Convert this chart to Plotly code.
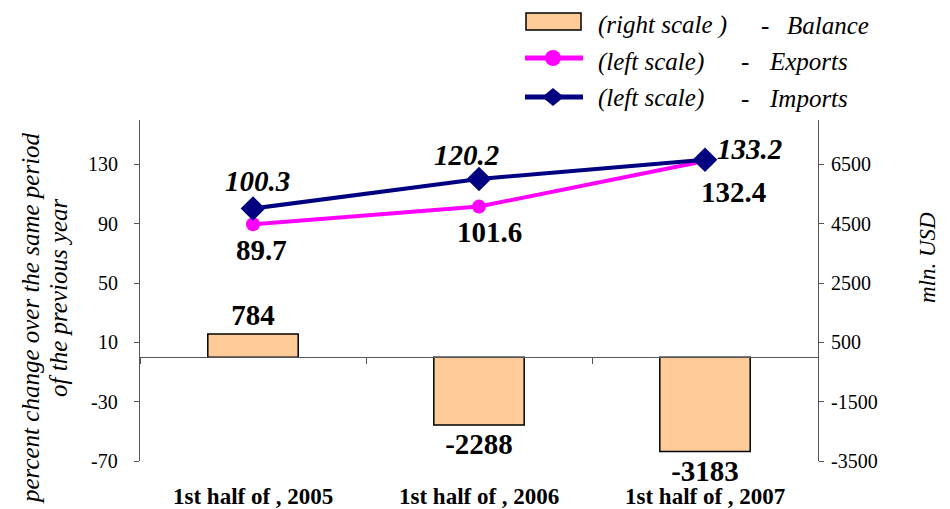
import plotly.graph_objects as go

categories = ["1st half of , 2005", "1st half of , 2006", "1st half of , 2007"]
balance = [784, -2288, -3183]
exports = [89.7, 101.6, 132.4]
imports = [100.3, 120.2, 133.2]
left_ticks = [-70, -30, 10, 50, 90, 130]
right_ticks = [-3500, -1500, 500, 2500, 4500, 6500]
legend_scales = ["(right scale )", "(left scale)", "(left scale)"]
legend_series = ["Balance", "Exports", "Imports"]
left_title = ["percent change over the same period", "of the previous year"]
right_title = "mln. USD"

FONT = "Liberation Serif"
LEFT_RANGE = [-70, 160]
RIGHT_RANGE = [-3500, 8000]
BAR_COLOR = "#FFCC99"
EXP_COLOR = "#FF00FF"
IMP_COLOR = "#000080"
AXIS_COLOR = "#555555"
TXT = "black"

fig = go.Figure()

fig.add_trace(go.Bar(
    x=categories, y=balance, yaxis="y2", name=legend_series[0],
    marker=dict(color=BAR_COLOR, line=dict(color="black", width=1.5)),
    width=0.4,
    text=[f"<b>{v}</b>" for v in balance], textposition="outside",
    textfont=dict(family=FONT, size=29, color="black"), constraintext="none",
    cliponaxis=False, showlegend=False,
))
fig.add_trace(go.Scatter(
    x=categories, y=exports, name=legend_series[1],
    mode="lines+markers",
    line=dict(color=EXP_COLOR, width=4),
    marker=dict(symbol="circle", size=14, color=EXP_COLOR),
    cliponaxis=False, showlegend=False,
))
fig.add_trace(go.Scatter(
    x=categories, y=imports, name=legend_series[2],
    mode="lines+markers",
    line=dict(color=IMP_COLOR, width=4),
    marker=dict(symbol="diamond", size=19, color=IMP_COLOR),
    cliponaxis=False, showlegend=False,
))

# data labels
exp_shift = [(8, -26), (10, -25), (28, -31)]
imp_shift = [(4, 28), (-13, 24), (44, 11)]
for c, v, (dx, dy) in zip(categories, exports, exp_shift):
    fig.add_annotation(x=c, y=v, text=f"<b>{v}</b>", showarrow=False,
                       xshift=dx, yshift=dy,
                       font=dict(family=FONT, size=29, color="black"))
for c, v, (dx, dy) in zip(categories, imports, imp_shift):
    fig.add_annotation(x=c, y=v, text=f"<b><i>{v}</i></b>", showarrow=False,
                       xshift=dx, yshift=dy,
                       font=dict(family=FONT, size=29, color="black"))

# figure is drawn with an 8px page offset; work in screen pixels
OFF = 8
W, H = 950 - OFF, 509 - OFF
PL, PR, PT, PB = 140, 818, 120, 461  # plot area in screen pixels
ML, MT = PL - OFF, PT - OFF
MR = W - (PR - OFF)
MB = H - (PB - OFF)
pw, ph = PR - PL, PB - PT


def px_x(x):
    return (x - PL) / pw


def px_y(y):
    return (PB - y) / ph


# axis tick labels (placed through the axes' own scales)
for v in left_ticks:
    fig.add_annotation(xref="paper", x=0, yref="y", y=v, text=str(v),
                       xanchor="right", yanchor="middle", xshift=-20, showarrow=False,
                       font=dict(family=FONT, size=20, color=TXT))
for v in right_ticks:
    fig.add_annotation(xref="paper", x=1, yref="y2", y=v, text=str(v),
                       xanchor="left", yanchor="middle", xshift=11, showarrow=False,
                       font=dict(family=FONT, size=20, color=TXT))
for c in categories:
    fig.add_annotation(xref="x", x=c, yref="paper", y=0, text=f"<b>{c}</b>",
                       xanchor="center", yanchor="middle", yshift=-35, showarrow=False,
                       font=dict(family=FONT, size=23, color="black"))

# axis titles
for txt, cx, cy in zip(left_title, [30, 58], [318, 298]):
    fig.add_annotation(xref="paper", yref="paper", x=px_x(cx), y=px_y(cy),
                       text=f"<i>{txt}</i>", textangle=-90, showarrow=False,
                       xanchor="center", yanchor="middle",
                       font=dict(family=FONT, size=25, color=TXT))
fig.add_annotation(xref="paper", yref="paper", x=px_x(927), y=px_y(258),
                   text=f"<i>{right_title}</i>", textangle=-90, showarrow=False,
                   xanchor="center", yanchor="middle",
                   font=dict(family=FONT, size=23, color=TXT))

# legend
sym_cx = 553
text_y = [25, 62, 98]
line_y = [22, 58, 97]
fig.add_shape(type="rect", xref="paper", yref="paper",
              x0=px_x(526), x1=px_x(581), y0=px_y(30), y1=px_y(13),
              fillcolor=BAR_COLOR, line=dict(color="black", width=1.5))
for yy, col in zip(line_y[1:], [EXP_COLOR, IMP_COLOR]):
    fig.add_shape(type="line", xref="paper", yref="paper",
                  x0=px_x(525), x1=px_x(583), y0=px_y(yy), y1=px_y(yy),
                  line=dict(color=col, width=5))
fig.add_shape(type="circle", xref="paper", yref="paper",
              xsizemode="pixel", ysizemode="pixel",
              xanchor=px_x(sym_cx), yanchor=px_y(line_y[1]),
              x0=-8, x1=8, y0=-8, y1=8,
              fillcolor=EXP_COLOR, line=dict(color=EXP_COLOR, width=0))
fig.add_shape(type="path", xref="paper", yref="paper",
              xsizemode="pixel", ysizemode="pixel",
              xanchor=px_x(sym_cx), yanchor=px_y(line_y[2]),
              path="M -11 0 L 0 9 L 11 0 L 0 -9 Z",
              fillcolor=IMP_COLOR, line=dict(color=IMP_COLOR, width=0))
dash_x = [765, 745, 745]
series_x = [785, 767, 767]
for sc, se, yy, dxp, sxp in zip(legend_scales, legend_series, text_y, dash_x, series_x):
    fig.add_annotation(xref="paper", yref="paper", x=px_x(596), y=px_y(yy),
                       xanchor="left", yanchor="middle", showarrow=False,
                       text=f"<i>{sc}</i>", font=dict(family=FONT, size=25, color="black"))
    fig.add_annotation(xref="paper", yref="paper", x=px_x(dxp), y=px_y(yy),
                       xanchor="center", yanchor="middle", showarrow=False,
                       text="-", font=dict(family=FONT, size=25, color="black"))
    fig.add_annotation(xref="paper", yref="paper", x=px_x(sxp), y=px_y(yy),
                       xanchor="left", yanchor="middle", showarrow=False,
                       text=f"<i>{se}</i>", font=dict(family=FONT, size=25, color="black"))

zero_pos = (0 - LEFT_RANGE[0]) / (LEFT_RANGE[1] - LEFT_RANGE[0])

fig.update_layout(
    width=W, height=H,
    margin=dict(l=ML, r=MR, t=MT, b=MB, autoexpand=False),
    paper_bgcolor="white", plot_bgcolor="white",
    font=dict(family=FONT, color="black"),
    showlegend=False,
    xaxis=dict(
        showline=False, ticks="", showgrid=False, zeroline=False, automargin=False,
        showticklabels=False,
    ),
    xaxis2=dict(
        overlaying="x", matches="x", anchor="free", position=zero_pos,
        showline=True, linecolor=AXIS_COLOR, linewidth=1,
        ticks="outside", ticklen=6, tickcolor=AXIS_COLOR, tickson="boundaries",
        showticklabels=False, showgrid=False, zeroline=False, automargin=False,
    ),
    yaxis=dict(
        range=LEFT_RANGE, tickvals=left_ticks, showgrid=False, zeroline=False,
        showline=True, linecolor=AXIS_COLOR, linewidth=1, automargin=False,
        ticks="outside", ticklen=5, tickcolor=AXIS_COLOR, showticklabels=False,
    ),
    yaxis2=dict(
        range=RIGHT_RANGE, tickvals=right_ticks, overlaying="y", side="right",
        showgrid=False, zeroline=False, automargin=False,
        showline=True, linecolor=AXIS_COLOR, linewidth=1,
        ticks="outside", ticklen=5, tickcolor=AXIS_COLOR, showticklabels=False,
    ),
)

fig.add_trace(go.Scatter(x=categories, y=[None] * 3, xaxis="x2", showlegend=False,
                         hoverinfo="skip"))

fig.write_html("out.html")
